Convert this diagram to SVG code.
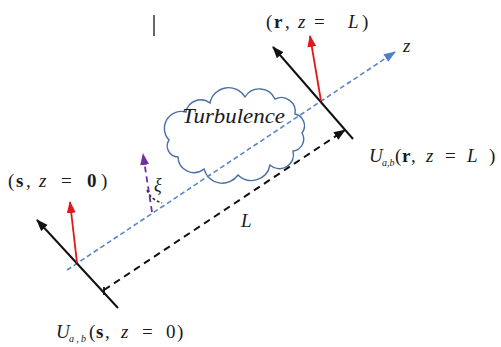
<svg xmlns="http://www.w3.org/2000/svg" width="501" height="347" viewBox="0 0 501 347">
<style>
text{font-family:"Liberation Serif","Times New Roman",serif;font-size:19px;fill:#1a1a1a}
.it{font-style:italic}
.bd{font-weight:bold}
.sub{font-style:italic;font-size:10px}
.plane{stroke:#111;stroke-width:2;fill:none}
.red{stroke:#e01818;stroke-width:1.8;fill:none}
.axis{stroke:#5a86c8;stroke-width:1.6;stroke-dasharray:5 3;fill:none}
.dist{stroke:#111;stroke-width:2;stroke-dasharray:7 5;fill:none}
.pur{stroke:#7030a0;stroke-width:1.8;stroke-dasharray:6 4;fill:none}
</style>
<defs>
<marker id="ab" markerUnits="userSpaceOnUse" markerWidth="12" markerHeight="10" refX="11" refY="4.5" orient="auto"><path d="M0,0 L12,4.5 L0,9 z" fill="#111"/></marker>
<marker id="ar" markerUnits="userSpaceOnUse" markerWidth="12" markerHeight="10" refX="11" refY="4.5" orient="auto"><path d="M0,0 L12,4.5 L0,9 z" fill="#e01818"/></marker>
<marker id="au" markerUnits="userSpaceOnUse" markerWidth="12" markerHeight="10" refX="11" refY="4.5" orient="auto"><path d="M0,0 L12,4.5 L0,9 z" fill="#4f7fc8"/></marker>
<marker id="ap" markerUnits="userSpaceOnUse" markerWidth="12" markerHeight="10" refX="11" refY="4.5" orient="auto"><path d="M0,0 L12,4.5 L0,9 z" fill="#7030a0"/></marker>
</defs>
<line x1="154" y1="15" x2="154" y2="36" stroke="#666" stroke-width="2"/>
<g id="turbulence">
<path d="M169,140 A17,17 0 0 1 186,112 A15,15 0 0 1 210,103 A19,19 0 0 1 245,97 A17,17 0 0 1 275,99 A14,14 0 0 1 295,114 A12,12 0 0 1 302,133 A12,12 0 0 1 293,151 A14,14 0 0 1 270,165 A19,19 0 0 1 238,175 A19,19 0 0 1 204,169 A16,16 0 0 1 178,157 A11,11 0 0 1 169,140 Z" fill="#fff" stroke="#4a6fa5" stroke-width="1.4"/>
<text x="182" y="123" class="it" style="font-size:21px" textLength="103" lengthAdjust="spacingAndGlyphs">Turbulence</text>
</g>
<g id="connectors">
<line class="axis" x1="67" y1="270" x2="395" y2="52" marker-end="url(#au)"/>
<line class="dist" x1="104" y1="290" x2="345" y2="130" marker-end="url(#ab)"/>
<line x1="104" y1="287" x2="104" y2="295" stroke="#111" stroke-width="1.8"/>
<line class="pur" x1="152" y1="212" x2="143" y2="154" marker-end="url(#ap)"/>
<path d="M147,190 Q150,199 162,203" stroke="#333" stroke-width="1.5" stroke-dasharray="3 2" fill="none"/>
</g>
<g id="plane-source">
<line class="plane" x1="118" y1="308" x2="37" y2="220" marker-end="url(#ab)"/>
<line class="red" x1="77" y1="263" x2="70" y2="202" marker-end="url(#ar)"/>
</g>
<g id="plane-receiver">
<line class="plane" x1="353" y1="139" x2="273" y2="47" marker-end="url(#ab)"/>
<line class="red" x1="321" y1="101" x2="310" y2="36" marker-end="url(#ar)"/>
</g>
<g id="labels">
<text y="28"><tspan x="266">(</tspan><tspan x="274" class="bd">r</tspan><tspan x="285">,</tspan><tspan x="298" class="it">z</tspan><tspan x="314">=</tspan><tspan x="348" class="it">L</tspan><tspan x="362">)</tspan></text>
<text x="403" y="52" class="it">z</text>
<text y="162"><tspan x="369" class="it">U</tspan><tspan x="382" y="166" class="sub">a,b</tspan><tspan x="395" y="162">(</tspan><tspan x="402" class="bd">r</tspan><tspan x="411">,</tspan><tspan x="426" class="it">z</tspan><tspan x="445">=</tspan><tspan x="467" class="it">L</tspan><tspan x="489">)</tspan></text>
<text y="187"><tspan x="8">(</tspan><tspan x="16" class="bd">s</tspan><tspan x="26">,</tspan><tspan x="39" class="it">z</tspan><tspan x="61">=</tspan><tspan x="87" class="bd">0</tspan><tspan x="101">)</tspan></text>
<text y="338"><tspan x="56" class="it">U</tspan><tspan x="69" y="342" class="sub" textLength="17">a,b</tspan><tspan x="89" y="338">(</tspan><tspan x="96" class="bd">s</tspan><tspan x="105">,</tspan><tspan x="121" class="it">z</tspan><tspan x="142">=</tspan><tspan x="166">0</tspan><tspan x="177">)</tspan></text>
<text x="241" y="227" class="it">L</text>
<text x="154" y="191" class="it" style="font-size:18px">ξ</text>
</g>
</svg>
